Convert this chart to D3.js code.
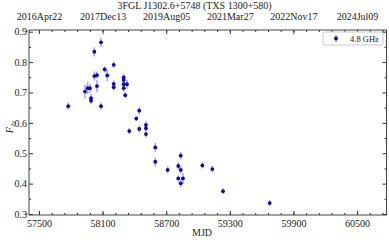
<!DOCTYPE html>
<html>
<head>
	<script src="https://cdn.jsdelivr.net/npm/d3@7"></script>
	<style>
		body { margin: 0; background: white; }
		text { font-family: "Liberation Serif", "DejaVu Serif", serif; fill: #222; }
	</style>
</head>
<body>
	<script>
		// 4.8 GHz light curve
		var mjd = [57776, 57934, 57959, 57981, 57991, 57991, 58022, 58022, 58047, 58047,
			58085, 58085, 58120, 58144, 58205, 58205, 58205, 58299, 58299, 58299,
			58299, 58314, 58330, 58418, 58446, 58352, 58446, 58509, 58509, 58509,
			58597, 58597, 58714, 58814, 58814, 58837, 58837, 58837, 58858, 59041,
			59135, 59236, 59676];
		var flux = [0.655, 0.703, 0.714, 0.714, 0.681, 0.673, 0.754, 0.834, 0.757, 0.721,
			0.865, 0.655, 0.776, 0.756, 0.791, 0.728, 0.717, 0.750, 0.741, 0.727,
			0.714, 0.691, 0.727, 0.614, 0.640, 0.573, 0.580, 0.593, 0.582, 0.563,
			0.519, 0.472, 0.445, 0.458, 0.417, 0.492, 0.445, 0.401, 0.417, 0.460,
			0.448, 0.375, 0.336];
		var fluxErr = [0.012, 0.022, 0.02, 0.015, 0.015, 0.012, 0.015, 0.015, 0.012, 0.02,
			0.015, 0.012, 0.01, 0.018, 0.01, 0.012, 0.01, 0.012, 0.012, 0.012,
			0.012, 0.01, 0.015, 0.008, 0.012, 0.01, 0.012, 0.012, 0.01, 0.012,
			0.015, 0.015, 0.012, 0.012, 0.01, 0.012, 0.012, 0.012, 0.018, 0.01,
			0.012, 0.01, 0.01];
		var mjdTicks = [57500, 58100, 58700, 59300, 59900, 60500];
		var dateTicks = ["2016Apr22", "2017Dec13", "2019Aug05", "2021Mar27", "2022Nov17", "2024Jul09"];
		var fluxTicks = [0.3, 0.4, 0.5, 0.6, 0.7, 0.8, 0.9];

		var width = 389, height = 240;
		var mLeft = 29, mRight = 386.5, mTop = 30, mBottom = 215;

		var svg = d3.select("body").append("svg")
			.attr("width", width)
			.attr("height", height);

		var x = d3.scaleLinear().domain([57406, 60778]).range([mLeft, mRight]);
		var y = d3.scaleLinear().domain([0.2967, 0.9056]).range([mBottom, mTop]);

		var minorX = d3.range(57380, 60780, 120);
		var minorY = d3.range(0.35, 0.9, 0.1);

		function ticks(axis, sel) {
			sel.call(axis);
			sel.select(".domain").remove();
			sel.selectAll("line").attr("stroke", "#333");
		}

		// bottom axis
		svg.append("g").attr("transform", "translate(0," + mBottom + ")")
			.call(function (g) {
				ticks(d3.axisBottom(x).tickValues(minorX).tickSize(-2).tickFormat(""), g);
			});
		svg.append("g").attr("transform", "translate(0," + mBottom + ")")
			.call(function (g) {
				ticks(d3.axisBottom(x).tickValues(mjdTicks).tickSize(-4).tickPadding(6).tickFormat(d3.format("d")), g);
				g.selectAll("text").attr("font-size", 10).attr("dy", "0.6em");
			});
		// top axis
		svg.append("g").attr("transform", "translate(0," + mTop + ")")
			.call(function (g) {
				ticks(d3.axisTop(x).tickValues(minorX).tickSize(-2).tickFormat(""), g);
			});
		svg.append("g").attr("transform", "translate(0," + mTop + ")")
			.call(function (g) {
				ticks(d3.axisTop(x).tickValues(mjdTicks).tickSize(-4).tickPadding(10)
					.tickFormat(function (d, i) { return dateTicks[i]; }), g);
				g.selectAll("text").attr("font-size", 10);
			});
		// left axis
		svg.append("g").attr("transform", "translate(" + mLeft + ",0)")
			.call(function (g) {
				ticks(d3.axisLeft(y).tickValues(minorY).tickSize(-2).tickFormat(""), g);
			});
		svg.append("g").attr("transform", "translate(" + mLeft + ",0)")
			.call(function (g) {
				ticks(d3.axisLeft(y).tickValues(fluxTicks).tickSize(-4).tickPadding(2).tickFormat(d3.format(".1f")), g);
				g.selectAll("text").attr("font-size", 10);
			});
		// right axis
		svg.append("g").attr("transform", "translate(" + mRight + ",0)")
			.call(function (g) {
				ticks(d3.axisRight(y).tickValues(minorY).tickSize(-2).tickFormat(""), g);
			});
		svg.append("g").attr("transform", "translate(" + mRight + ",0)")
			.call(function (g) {
				ticks(d3.axisRight(y).tickValues(fluxTicks).tickSize(-4).tickFormat(""), g);
			});

		svg.append("rect")
			.attr("x", mLeft).attr("y", mTop)
			.attr("width", mRight - mLeft).attr("height", mBottom - mTop)
			.attr("fill", "none").attr("stroke", "#444").attr("stroke-width", 1);

		// error bars and points
		var pts = mjd.map(function (m, i) { return { m: m, f: flux[i], e: fluxErr[i] }; });
		svg.append("g").selectAll("line").data(pts).enter().append("line")
			.attr("x1", function (d) { return x(d.m); })
			.attr("x2", function (d) { return x(d.m); })
			.attr("y1", function (d) { return y(d.f - d.e); })
			.attr("y2", function (d) { return y(d.f + d.e); })
			.attr("stroke", "rgba(90,90,255,0.55)")
			.attr("stroke-width", 1.5);
		svg.append("g").selectAll("circle").data(pts).enter().append("circle")
			.attr("cx", function (d) { return x(d.m); })
			.attr("cy", function (d) { return y(d.f); })
			.attr("r", 1.9)
			.attr("fill", "#0a0aa8");

		// title
		svg.append("text").attr("x", 194.5).attr("y", 9)
			.attr("text-anchor", "middle").attr("font-size", 10)
			.text("3FGL J1302.6+5748 (TXS 1300+580)");

		// axis labels
		svg.append("text").attr("x", 202).attr("y", 236)
			.attr("text-anchor", "middle").attr("font-size", 10).text("MJD");
		var yl = svg.append("text")
			.attr("transform", "translate(13,127) rotate(-90)")
			.attr("text-anchor", "middle").attr("font-size", 10).attr("font-style", "italic");
		yl.append("tspan").text("F");
		yl.append("tspan").attr("font-size", 7).attr("dy", 2).text("Jy");

		// legend
		var lg = svg.append("g");
		lg.append("rect").attr("x", 323).attr("y", 32).attr("width", 60).attr("height", 13)
			.attr("rx", 2).attr("fill", "white").attr("stroke", "#bbb").attr("stroke-width", 0.8);
		lg.append("line").attr("x1", 336).attr("x2", 336).attr("y1", 34.5).attr("y2", 42.5)
			.attr("stroke", "rgba(90,90,255,0.55)").attr("stroke-width", 1.5);
		lg.append("circle").attr("cx", 336).attr("cy", 38.5).attr("r", 1.9).attr("fill", "#0a0aa8");
		lg.append("text").attr("x", 350).attr("y", 41.5).attr("font-size", 8.5).text("4.8 GHz");
	</script>
</body>
</html>
